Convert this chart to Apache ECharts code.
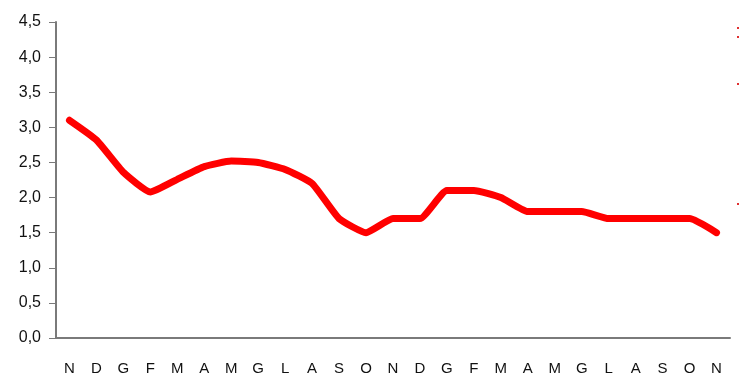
<!DOCTYPE html>
<html>
<head>
<meta charset="utf-8">
<script src="https://cdn.jsdelivr.net/npm/echarts@6/dist/echarts.min.js"></script>
<style>html,body{margin:0;padding:0;background:#fff;}#c{width:740px;height:389px;}</style>
</head>
<body>
<div id="c"></div>
<script>
const months = ['N','D','G','F','M','A','M','G','L','A','S','O','N','D','G','F','M','A','M','G','L','A','S','O','N'];
const values = [3.1,2.82,2.36,2.08,2.26,2.44,2.52,2.5,2.4,2.2,1.7,1.5,1.7,1.7,2.1,2.1,2.0,1.8,1.8,1.8,1.7,1.7,1.7,1.7,1.5];
const yTicks = {min:0, max:4.5, interval:0.5};

const chart = echarts.init(document.getElementById('c'), null, {renderer:'canvas'});
chart.setOption({
  animation:false,
  backgroundColor:'#fff',
  grid:{left:56, right:10, top:22, bottom:51, containLabel:false},
  xAxis:{
    type:'category', data:months, boundaryGap:true,
    axisLine:{lineStyle:{color:'#7a7a7a', width:2}},
    axisTick:{show:false},
    axisLabel:{color:'#111', fontFamily:'Liberation Sans, Arial, sans-serif', fontSize:15, margin:23, interval:0}
  },
  yAxis:{
    type:'value', min:yTicks.min, max:yTicks.max, interval:yTicks.interval,
    axisLine:{show:true, lineStyle:{color:'#7a7a7a', width:2}},
    axisTick:{show:true, length:7, lineStyle:{color:'#7a7a7a', width:1}},
    splitLine:{show:false},
    axisLabel:{color:'#111', fontFamily:'Liberation Sans, Arial, sans-serif', fontSize:16, margin:15,
      formatter:v=>v.toFixed(1).replace('.',',')}
  },
  series:[{
    type:'line', data:values, smooth:0.15, symbol:'none',
    lineStyle:{color:'#ff0000', width:7, cap:'round', join:'round'}
  }],
  graphic:[
    {type:'rect', shape:{x:737,y:27,width:2,height:2}, style:{fill:'#e03030'}},
    {type:'rect', shape:{x:737,y:36,width:2,height:2}, style:{fill:'#e03030'}},
    {type:'rect', shape:{x:737,y:83,width:2,height:2}, style:{fill:'#e03030'}},
    {type:'rect', shape:{x:737,y:203,width:2,height:2}, style:{fill:'#e03030'}}
  ]
});
</script>
</body>
</html>
